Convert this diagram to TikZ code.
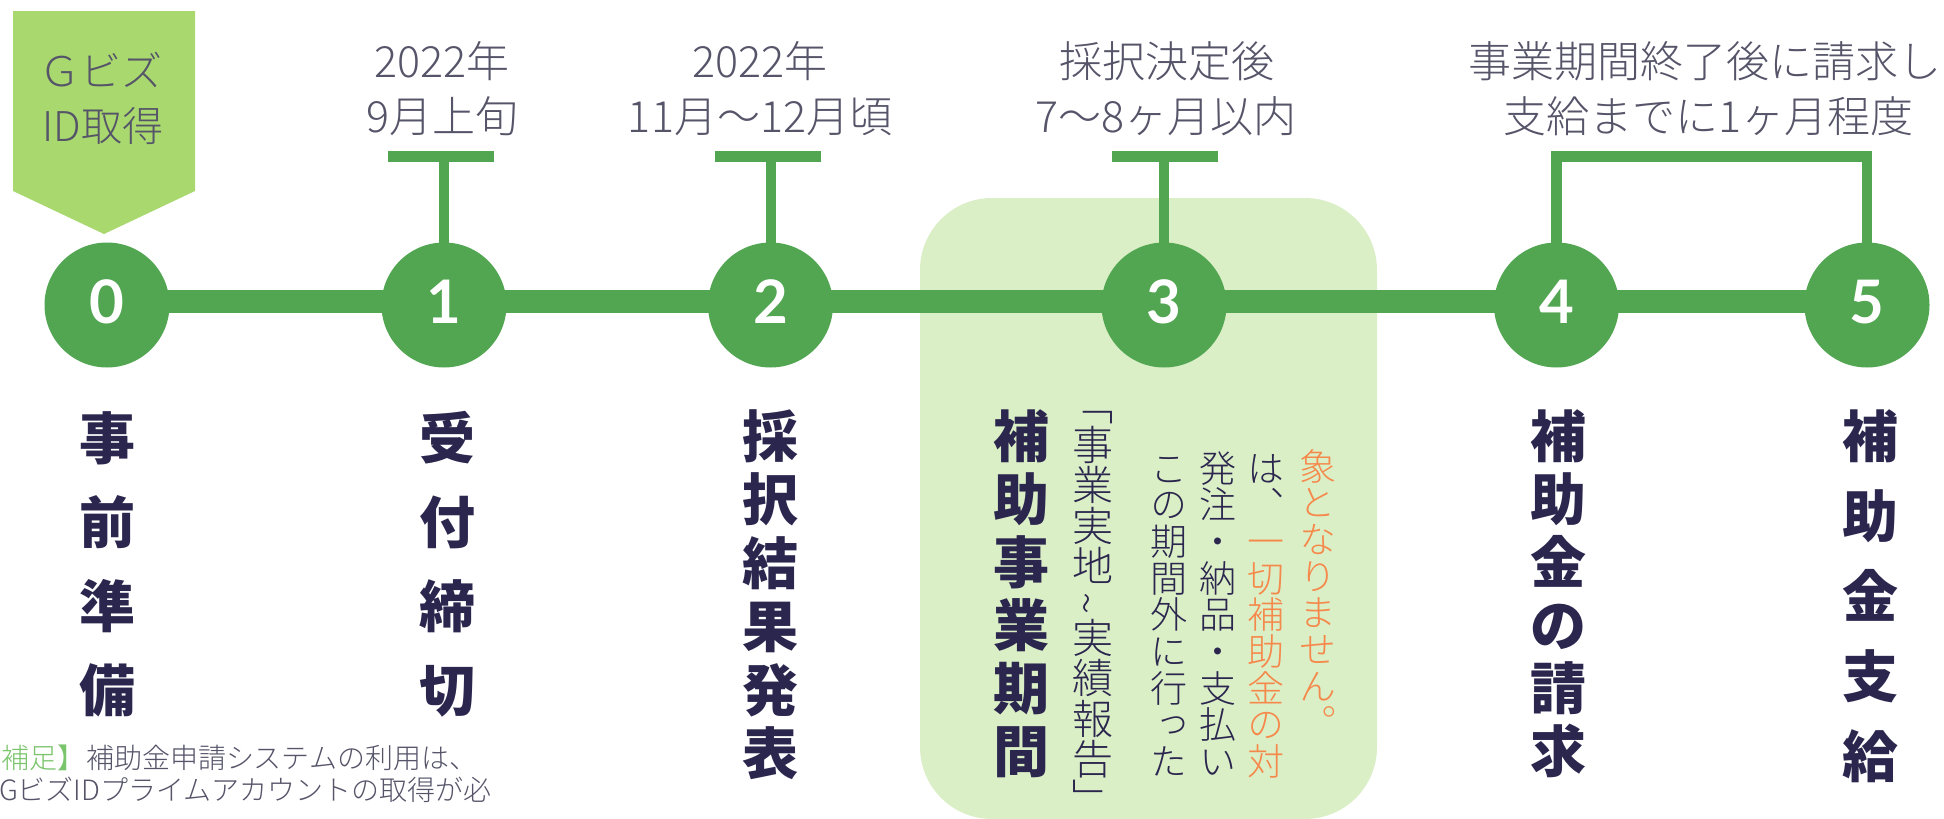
\documentclass[tikz,border=0pt]{standalone}
\usepackage{fontspec}
\newfontfamily\jp{Noto Sans CJK JP}
\newfontfamily\jpl{Noto Sans CJK JP Light}
\newfontfamily\jplv[RawFeature=+vert]{Noto Sans CJK JP Light}
\newfontfamily\lato{Lato}
\usetikzlibrary{calc}
\definecolor{cgreen}{HTML}{52A652}
\definecolor{banner}{HTML}{A8D86E}
\definecolor{boxfill}{HTML}{DBEFC7}
\definecolor{navy}{HTML}{2B264E}
\definecolor{greytxt}{HTML}{555469}
\definecolor{orangetxt}{HTML}{F5894B}
\definecolor{notegreen}{HTML}{7AC46B}
\pgfdeclarelayer{back}
\pgfdeclarelayer{bg}
\pgfsetlayers{back,bg,main}
\tikzset{
  every node/.style={inner sep=0pt, outer sep=0pt},
  circ/.style={circle, fill=cgreen, minimum size=125pt},
  num/.style={font={\lato\bfseries\fontsize{60}{60}\selectfont}, text=white},
  title/.style={font={\jp\bfseries\fontsize{56}{60}\selectfont}, text=navy},
  sub/.style={font={\jplv\fontsize{41}{44}\selectfont}, text=navy},
  sm/.style={font={\jplv\fontsize{37}{40}\selectfont}, text=navy},
  smo/.style={font={\jplv\fontsize{37}{40}\selectfont}, text=orangetxt},
  datetxt/.style={font={\jpl\fontsize{43}{46}\selectfont}, text=greytxt},
  bantxt/.style={font={\jpl\fontsize{41}{44}\selectfont}, text=greytxt},
  notetxt/.style={font={\jpl\fontsize{28}{30}\selectfont}, text=greytxt},
  mainline/.style={draw=cgreen, line width=23pt},
  stem/.style={draw=cgreen, line width=10pt},
  tbar/.style={draw=cgreen, line width=11pt},
  bracketline/.style={draw=cgreen, line width=10.5pt, line join=miter},
}
\newcommand\vcol[6]{%
  \foreach \ch [count=\k from 0] in {#6}{%
    \node[#5, anchor=base] (#1-\k) at (#2, {#3+\k*#4}) {\ch};}}
\begin{document}
\begin{tikzpicture}[x=1pt,y=-1pt]
\useasboundingbox (0,0) rectangle (1944,819);
\clip (0,0) rectangle (1944,819);
\begin{pgfonlayer}{back}
  \fill[white] (0,0) rectangle (1944,819);
  \fill[boxfill, rounded corners=72pt] (920,198) rectangle (1377,819);
  \fill[banner] (13,11) -- (195,11) -- (195,191) -- (104,234) -- (13,191) -- cycle;
\end{pgfonlayer}
% banner text
\node[bantxt, anchor=base] (g1) at (101,86) {Ｇビズ};
\node[bantxt, anchor=base] (g2) at (103,141.5) {ID取得};
% circles
\node[circ] (c0) at (107,305) {};
\node[circ] (c1) at (444,305) {};
\node[circ] (c2) at (770.5,305) {};
\node[circ] (c3) at (1164,305) {};
\node[circ] (c4) at (1556.5,305) {};
\node[circ] (c5) at (1867,305) {};
\foreach \i in {0,...,5}{\node[num, anchor=base] (n\i) at ($(c\i.center)+(0,18)$) {\i};}
% connectors
\coordinate (t1) at (441,156.5);
\coordinate (t2) at (767.5,156.5);
\coordinate (t3) at (1165,156.5);
\coordinate (br) at (1712,156.5);
\begin{pgfonlayer}{bg}
  \draw[mainline] ([yshift=3.5pt]c0.center) -- ([yshift=3.5pt]c5.center);
  \foreach \j in {1,2,3}{
    \draw[stem] (c\j.center) -- (c\j.center |- t\j);
    \draw[tbar] ([xshift=-53pt]t\j) -- ([xshift=53pt]t\j);
  }
  \draw[bracketline] (c4.center) |- (br) -| (c5.center);
\end{pgfonlayer}
% date labels
\node[datetxt, anchor=base] (d1a) at (442,77) {2022年};
\node[datetxt, anchor=base] (d1b) at (442,132) {9月上旬};
\node[datetxt, anchor=base] (d2a) at (760,77) {2022年};
\node[datetxt, anchor=base] (d2b) at (760,132) {11月〜12月頃};
\node[datetxt, anchor=base] (d3a) at (1167,77) {採択決定後};
\node[datetxt, anchor=base] (d3b) at (1166,132) {7〜8ヶ月以内};
\node[datetxt, anchor=base] (d4a) at (1705,77) {事業期間終了後に請求し};
\node[datetxt, anchor=base] (d4b) at (1708,132) {支給までに1ヶ月程度};
% titles
\vcol{s0}{107}{459}{84}{title}{事,前,準,備}
\vcol{s1}{447}{459}{84}{title}{受,付,締,切}
\vcol{s2}{770}{457}{63.5}{title}{採,択,結,果,発,表}
\vcol{s3}{1021.5}{457}{63}{title}{補,助,事,業,期,間}
\vcol{s4}{1558}{457}{63}{title}{補,助,金,の,請,求}
\vcol{s5}{1870}{457}{80}{title}{補,助,金,支,給}
% column A
\foreach \ch/\yy [count=\k] in {「/420,事/460,業/500.5,実/541,地/581.5,実/653,績/693.5,報/734,告/774,」/814}{
  \node[sub, anchor=base] (ca-\k) at (1093,\yy) {\ch};}
\node[font={\jpl\fontsize{41}{44}\selectfont}, text=navy, rotate=90] (ca-t) at (1093,604) {\textasciitilde};
% columns B-E
\vcol{cb}{1169}{482}{36.7}{sm}{こ,の,期,間,外,に,行,っ,た}
\vcol{cc}{1217.5}{482}{36.7}{sm}{発,注,・,納,品,・,支,払,い}
\vcol{cd}{1266}{482}{36.7}{sm}{は,、}
\vcol{ce}{1266}{482+2*36.7}{36.7}{smo}{一,切,補,助,金,の,対}
\vcol{cf}{1317.5}{480}{36.7}{smo}{象,と,な,り,ま,せ,ん,。}
% note
\node[notetxt, anchor=base west] (nt1) at (-26,768) {\textcolor{notegreen}{【補足】}補助金申請システムの利用は、};
\node[notetxt, anchor=base west] (nt2) at (-1,800) {GビズIDプライムアカウントの取得が必};
\end{tikzpicture}
\end{document}
